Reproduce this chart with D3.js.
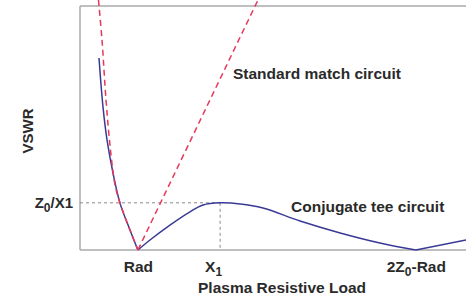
<!DOCTYPE html>
<html><head><meta charset="utf-8">
<script src="https://cdn.jsdelivr.net/npm/d3@7"></script>
<style>body{margin:0;background:#fff}svg{display:block}text{font-family:"Liberation Sans",Arial,sans-serif;fill:#2a2a2a;font-weight:bold}</style>
</head><body><svg id="c" width="466" height="298"></svg>
<script>
// Data (x: plasma resistive load, arbitrary units; y: VSWR)
const tickValues = [15, 36.3, 87];
const tickLabels = [["Rad"], ["X", "1"], ["2Z", "0", "-Rad"]];
const conjugateLeft = [[4.92,8.08],[5.96,6.27],[7.0,5.06],[8.55,3.84],[10.36,2.73],[12.95,1.74],[15,1]];
const conjugateMid = [[15,1],[18.13,1.37],[23.3,1.92],[28.5,2.41],[31.9,2.66],[36.3,2.74],[41.5,2.70],[47.4,2.55],[57.0,2.07],[67.4,1.63],[77.7,1.26],[87,1]];
const conjugateRight = [[87,1],[100,1.37]];
const standardLeft = [[4.79,10.22],[5.70,8.75],[6.74,6.53],[7.9,4.69],[9.07,3.40],[10.36,2.73],[12.95,1.74],[15,1]];
const standardRight = [[15,1],[46.1,10.22]];
const peak = {x: 36.3, y: 2.74};

const svg = d3.select("#c");
const x = d3.scaleLinear().domain([0,100]).range([80,466]);
const y = d3.scaleLinear().domain([1,10]).range([250,6]);

// frame
svg.append("line").attr("x1",80).attr("x2",466).attr("y1",6).attr("y2",6).attr("stroke","#aaa").attr("stroke-width",1.5);
svg.append("line").attr("x1",80).attr("x2",80).attr("y1",6).attr("y2",250).attr("stroke","#aaa").attr("stroke-width",1.5);
svg.append("line").attr("x1",80).attr("x2",466).attr("y1",250).attr("y2",250).attr("stroke","#aaa").attr("stroke-width",1.5);

// reference dashed lines
svg.append("line").attr("x1",x(0)).attr("x2",x(peak.x)).attr("y1",y(peak.y)).attr("y2",y(peak.y))
  .attr("stroke","#888").attr("stroke-width",1).attr("stroke-dasharray","3,3");
svg.append("line").attr("x1",x(peak.x)).attr("x2",x(peak.x)).attr("y1",y(peak.y)).attr("y2",y(1))
  .attr("stroke","#888").attr("stroke-width",1).attr("stroke-dasharray","3,3");

const line = d3.line().x(d=>x(d[0])).y(d=>y(d[1])).curve(d3.curveCatmullRom);
const lin = d3.line().x(d=>x(d[0])).y(d=>y(d[1]));

[conjugateLeft, conjugateMid, conjugateRight].forEach(s=>{
  svg.append("path").attr("d", line(s)).attr("fill","none").attr("stroke","#3a3a96").attr("stroke-width",1.5);
});
svg.append("path").attr("d", line(standardLeft)).attr("fill","none").attr("stroke","#e8375c").attr("stroke-width",1.5).attr("stroke-dasharray","6,4");
svg.append("path").attr("d", lin(standardRight)).attr("fill","none").attr("stroke","#e8375c").attr("stroke-width",1.5).attr("stroke-dasharray","6,4");

// x axis tick labels
const ax = svg.append("g").attr("transform","translate(0,250)")
  .call(d3.axisBottom(x).tickValues(tickValues).tickSize(0).tickPadding(0).tickFormat(""));
ax.select(".domain").remove();
ax.selectAll(".tick").each(function(d,i){
  const t = d3.select(this).append("text").attr("y",22).attr("text-anchor","middle")
    .attr("dx", i===1 ? -7 : 0)
    .style("font-size","15.5px");
  const parts = tickLabels[i];
  parts.forEach((p,j)=>{
    const ts = t.append("tspan").text(p);
    if (j===1) ts.attr("dy",4).style("font-size","12px");
    if (j===2) ts.attr("dy",-4);
  });
});

// y label for Z0/X1
const yl = svg.append("text").attr("x",73).attr("y",y(peak.y)+5).attr("text-anchor","end").style("font-size","15px");
yl.append("tspan").text("Z");
yl.append("tspan").text("0").attr("dy",4).style("font-size","12px");
yl.append("tspan").text("/X1").attr("dy",-4);

svg.append("text").attr("transform","translate(33,131) rotate(-90)").attr("text-anchor","middle").style("font-size","15px").text("VSWR");
svg.append("text").attr("x",282).attr("y",293).attr("text-anchor","middle").style("font-size","15.5px").text("Plasma Resistive Load");
svg.append("text").attr("x",233).attr("y",79).style("font-size","15.5px").text("Standard match circuit");
svg.append("text").attr("x",291).attr("y",212).style("font-size","15.5px").text("Conjugate tee circuit");
</script></body></html>
